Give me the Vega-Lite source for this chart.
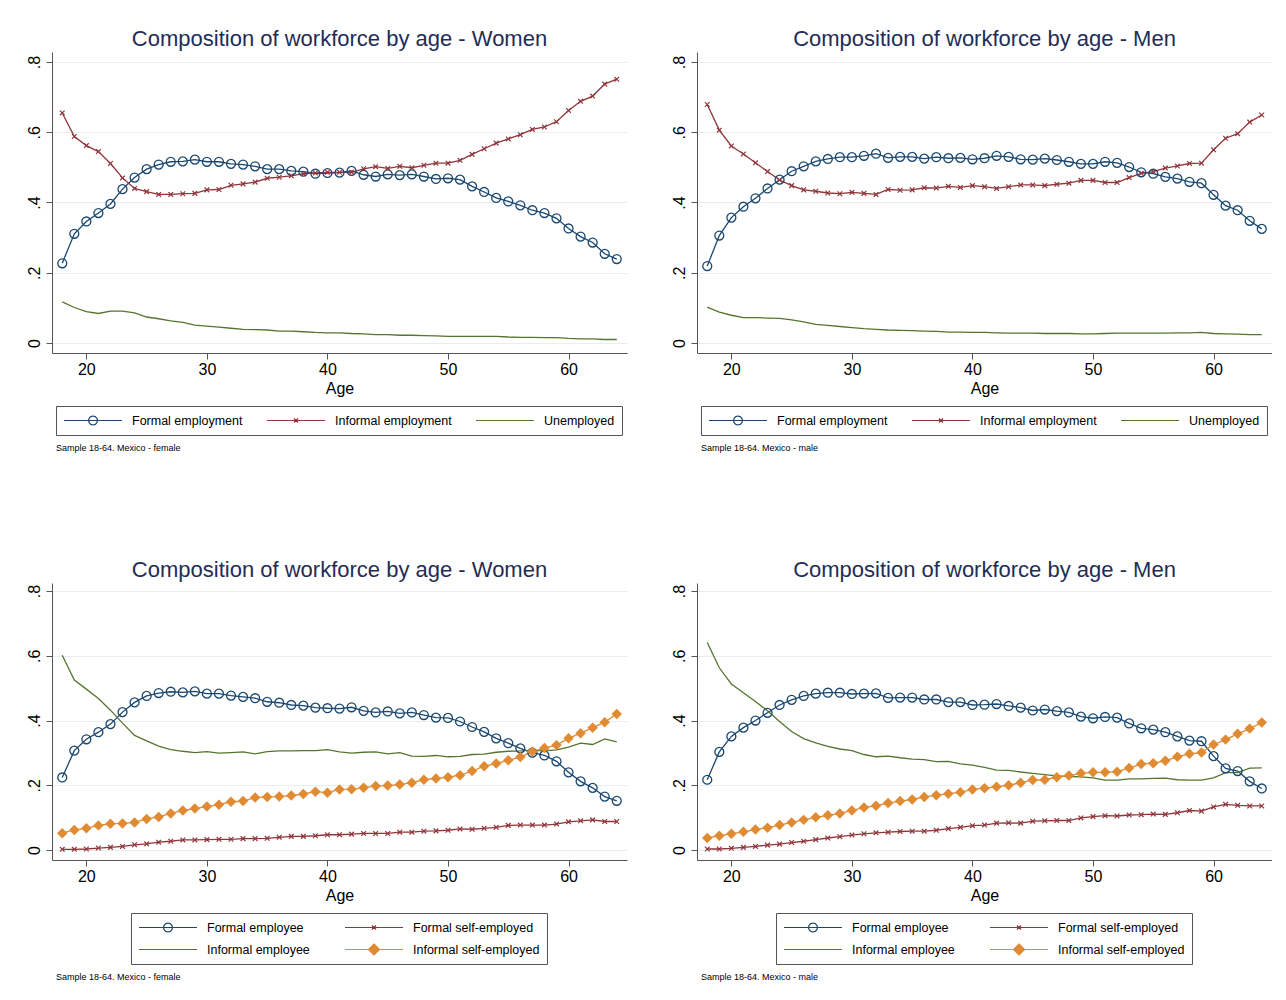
{
  "$schema": "https://vega.github.io/schema/vega-lite/v6.json",
  "background": "white",
  "padding": {"left": 26, "top": 28, "right": 0, "bottom": 0},
  "spacing": 106,
  "resolve": {"scale": {"color": "independent", "stroke": "independent", "shape": "independent"}, "legend": {"color": "independent", "stroke": "independent", "shape": "independent"}},
  "datasets": {
    "tw": [
      {"age":18,"Formal employment":0.227,"Informal employment":0.655,"Unemployed":0.117},
      {"age":19,"Formal employment":0.311,"Informal employment":0.588,"Unemployed":0.101},
      {"age":20,"Formal employment":0.346,"Informal employment":0.562,"Unemployed":0.089},
      {"age":21,"Formal employment":0.370,"Informal employment":0.545,"Unemployed":0.084},
      {"age":22,"Formal employment":0.396,"Informal employment":0.511,"Unemployed":0.091},
      {"age":23,"Formal employment":0.438,"Informal employment":0.470,"Unemployed":0.091},
      {"age":24,"Formal employment":0.471,"Informal employment":0.440,"Unemployed":0.086},
      {"age":25,"Formal employment":0.495,"Informal employment":0.431,"Unemployed":0.074},
      {"age":26,"Formal employment":0.508,"Informal employment":0.423,"Unemployed":0.069},
      {"age":27,"Formal employment":0.516,"Informal employment":0.423,"Unemployed":0.063},
      {"age":28,"Formal employment":0.517,"Informal employment":0.425,"Unemployed":0.059},
      {"age":29,"Formal employment":0.522,"Informal employment":0.426,"Unemployed":0.051},
      {"age":30,"Formal employment":0.516,"Informal employment":0.436,"Unemployed":0.048},
      {"age":31,"Formal employment":0.516,"Informal employment":0.437,"Unemployed":0.045},
      {"age":32,"Formal employment":0.510,"Informal employment":0.449,"Unemployed":0.042},
      {"age":33,"Formal employment":0.508,"Informal employment":0.453,"Unemployed":0.039},
      {"age":34,"Formal employment":0.503,"Informal employment":0.458,"Unemployed":0.038},
      {"age":35,"Formal employment":0.495,"Informal employment":0.469,"Unemployed":0.037},
      {"age":36,"Formal employment":0.495,"Informal employment":0.472,"Unemployed":0.034},
      {"age":37,"Formal employment":0.490,"Informal employment":0.476,"Unemployed":0.034},
      {"age":38,"Formal employment":0.488,"Informal employment":0.482,"Unemployed":0.032},
      {"age":39,"Formal employment":0.482,"Informal employment":0.484,"Unemployed":0.030},
      {"age":40,"Formal employment":0.484,"Informal employment":0.486,"Unemployed":0.029},
      {"age":41,"Formal employment":0.485,"Informal employment":0.486,"Unemployed":0.029},
      {"age":42,"Formal employment":0.490,"Informal employment":0.486,"Unemployed":0.027},
      {"age":43,"Formal employment":0.479,"Informal employment":0.496,"Unemployed":0.026},
      {"age":44,"Formal employment":0.474,"Informal employment":0.502,"Unemployed":0.024},
      {"age":45,"Formal employment":0.480,"Informal employment":0.497,"Unemployed":0.024},
      {"age":46,"Formal employment":0.478,"Informal employment":0.503,"Unemployed":0.022},
      {"age":47,"Formal employment":0.480,"Informal employment":0.499,"Unemployed":0.022},
      {"age":48,"Formal employment":0.474,"Informal employment":0.506,"Unemployed":0.021},
      {"age":49,"Formal employment":0.467,"Informal employment":0.512,"Unemployed":0.020},
      {"age":50,"Formal employment":0.469,"Informal employment":0.512,"Unemployed":0.019},
      {"age":51,"Formal employment":0.465,"Informal employment":0.520,"Unemployed":0.019},
      {"age":52,"Formal employment":0.446,"Informal employment":0.537,"Unemployed":0.019},
      {"age":53,"Formal employment":0.430,"Informal employment":0.553,"Unemployed":0.019},
      {"age":54,"Formal employment":0.413,"Informal employment":0.569,"Unemployed":0.019},
      {"age":55,"Formal employment":0.403,"Informal employment":0.581,"Unemployed":0.017},
      {"age":56,"Formal employment":0.392,"Informal employment":0.593,"Unemployed":0.016},
      {"age":57,"Formal employment":0.378,"Informal employment":0.608,"Unemployed":0.016},
      {"age":58,"Formal employment":0.370,"Informal employment":0.615,"Unemployed":0.015},
      {"age":59,"Formal employment":0.355,"Informal employment":0.630,"Unemployed":0.015},
      {"age":60,"Formal employment":0.326,"Informal employment":0.662,"Unemployed":0.013},
      {"age":61,"Formal employment":0.303,"Informal employment":0.688,"Unemployed":0.012},
      {"age":62,"Formal employment":0.286,"Informal employment":0.703,"Unemployed":0.012},
      {"age":63,"Formal employment":0.254,"Informal employment":0.737,"Unemployed":0.010},
      {"age":64,"Formal employment":0.239,"Informal employment":0.751,"Unemployed":0.010}
    ],
    "tm": [
      {"age":18,"Formal employment":0.219,"Informal employment":0.679,"Unemployed":0.102},
      {"age":19,"Formal employment":0.306,"Informal employment":0.606,"Unemployed":0.088},
      {"age":20,"Formal employment":0.357,"Informal employment":0.561,"Unemployed":0.079},
      {"age":21,"Formal employment":0.388,"Informal employment":0.538,"Unemployed":0.072},
      {"age":22,"Formal employment":0.412,"Informal employment":0.513,"Unemployed":0.072},
      {"age":23,"Formal employment":0.440,"Informal employment":0.488,"Unemployed":0.071},
      {"age":24,"Formal employment":0.465,"Informal employment":0.464,"Unemployed":0.070},
      {"age":25,"Formal employment":0.489,"Informal employment":0.448,"Unemployed":0.066},
      {"age":26,"Formal employment":0.503,"Informal employment":0.436,"Unemployed":0.060},
      {"age":27,"Formal employment":0.517,"Informal employment":0.432,"Unemployed":0.053},
      {"age":28,"Formal employment":0.524,"Informal employment":0.427,"Unemployed":0.050},
      {"age":29,"Formal employment":0.529,"Informal employment":0.425,"Unemployed":0.047},
      {"age":30,"Formal employment":0.529,"Informal employment":0.429,"Unemployed":0.044},
      {"age":31,"Formal employment":0.533,"Informal employment":0.426,"Unemployed":0.041},
      {"age":32,"Formal employment":0.539,"Informal employment":0.423,"Unemployed":0.039},
      {"age":33,"Formal employment":0.527,"Informal employment":0.437,"Unemployed":0.037},
      {"age":34,"Formal employment":0.530,"Informal employment":0.435,"Unemployed":0.036},
      {"age":35,"Formal employment":0.530,"Informal employment":0.436,"Unemployed":0.035},
      {"age":36,"Formal employment":0.525,"Informal employment":0.442,"Unemployed":0.034},
      {"age":37,"Formal employment":0.529,"Informal employment":0.441,"Unemployed":0.033},
      {"age":38,"Formal employment":0.526,"Informal employment":0.446,"Unemployed":0.031},
      {"age":39,"Formal employment":0.527,"Informal employment":0.443,"Unemployed":0.031},
      {"age":40,"Formal employment":0.523,"Informal employment":0.448,"Unemployed":0.030},
      {"age":41,"Formal employment":0.526,"Informal employment":0.445,"Unemployed":0.030},
      {"age":42,"Formal employment":0.533,"Informal employment":0.440,"Unemployed":0.029},
      {"age":43,"Formal employment":0.530,"Informal employment":0.445,"Unemployed":0.028},
      {"age":44,"Formal employment":0.523,"Informal employment":0.450,"Unemployed":0.028},
      {"age":45,"Formal employment":0.522,"Informal employment":0.450,"Unemployed":0.028},
      {"age":46,"Formal employment":0.525,"Informal employment":0.448,"Unemployed":0.027},
      {"age":47,"Formal employment":0.521,"Informal employment":0.452,"Unemployed":0.027},
      {"age":48,"Formal employment":0.516,"Informal employment":0.455,"Unemployed":0.027},
      {"age":49,"Formal employment":0.510,"Informal employment":0.463,"Unemployed":0.026},
      {"age":50,"Formal employment":0.510,"Informal employment":0.463,"Unemployed":0.026},
      {"age":51,"Formal employment":0.516,"Informal employment":0.457,"Unemployed":0.027},
      {"age":52,"Formal employment":0.513,"Informal employment":0.457,"Unemployed":0.028},
      {"age":53,"Formal employment":0.501,"Informal employment":0.471,"Unemployed":0.028},
      {"age":54,"Formal employment":0.486,"Informal employment":0.483,"Unemployed":0.028},
      {"age":55,"Formal employment":0.482,"Informal employment":0.488,"Unemployed":0.028},
      {"age":56,"Formal employment":0.473,"Informal employment":0.498,"Unemployed":0.028},
      {"age":57,"Formal employment":0.468,"Informal employment":0.504,"Unemployed":0.029},
      {"age":58,"Formal employment":0.459,"Informal employment":0.511,"Unemployed":0.029},
      {"age":59,"Formal employment":0.455,"Informal employment":0.512,"Unemployed":0.030},
      {"age":60,"Formal employment":0.422,"Informal employment":0.550,"Unemployed":0.027},
      {"age":61,"Formal employment":0.391,"Informal employment":0.583,"Unemployed":0.026},
      {"age":62,"Formal employment":0.378,"Informal employment":0.596,"Unemployed":0.025},
      {"age":63,"Formal employment":0.348,"Informal employment":0.629,"Unemployed":0.024},
      {"age":64,"Formal employment":0.325,"Informal employment":0.649,"Unemployed":0.024}
    ],
    "bw": [
      {"age":18,"Formal employee":0.224,"Formal self-employed":0.002,"Informal employee":0.602,"Informal self-employed":0.052},
      {"age":19,"Formal employee":0.307,"Formal self-employed":0.002,"Informal employee":0.525,"Informal self-employed":0.062},
      {"age":20,"Formal employee":0.342,"Formal self-employed":0.003,"Informal employee":0.497,"Informal self-employed":0.067},
      {"age":21,"Formal employee":0.364,"Formal self-employed":0.006,"Informal employee":0.468,"Informal self-employed":0.076},
      {"age":22,"Formal employee":0.389,"Formal self-employed":0.008,"Informal employee":0.432,"Informal self-employed":0.081},
      {"age":23,"Formal employee":0.426,"Formal self-employed":0.011,"Informal employee":0.392,"Informal self-employed":0.082},
      {"age":24,"Formal employee":0.456,"Formal self-employed":0.016,"Informal employee":0.354,"Informal self-employed":0.085},
      {"age":25,"Formal employee":0.476,"Formal self-employed":0.019,"Informal employee":0.337,"Informal self-employed":0.096},
      {"age":26,"Formal employee":0.485,"Formal self-employed":0.024,"Informal employee":0.321,"Informal self-employed":0.102},
      {"age":27,"Formal employee":0.489,"Formal self-employed":0.027,"Informal employee":0.310,"Informal self-employed":0.113},
      {"age":28,"Formal employee":0.487,"Formal self-employed":0.031,"Informal employee":0.305,"Informal self-employed":0.122},
      {"age":29,"Formal employee":0.490,"Formal self-employed":0.031,"Informal employee":0.301,"Informal self-employed":0.128},
      {"age":30,"Formal employee":0.483,"Formal self-employed":0.032,"Informal employee":0.304,"Informal self-employed":0.134},
      {"age":31,"Formal employee":0.483,"Formal self-employed":0.033,"Informal employee":0.299,"Informal self-employed":0.140},
      {"age":32,"Formal employee":0.477,"Formal self-employed":0.033,"Informal employee":0.301,"Informal self-employed":0.149},
      {"age":33,"Formal employee":0.473,"Formal self-employed":0.035,"Informal employee":0.303,"Informal self-employed":0.151},
      {"age":34,"Formal employee":0.469,"Formal self-employed":0.035,"Informal employee":0.297,"Informal self-employed":0.162},
      {"age":35,"Formal employee":0.458,"Formal self-employed":0.036,"Informal employee":0.304,"Informal self-employed":0.164},
      {"age":36,"Formal employee":0.455,"Formal self-employed":0.039,"Informal employee":0.306,"Informal self-employed":0.165},
      {"age":37,"Formal employee":0.448,"Formal self-employed":0.042,"Informal employee":0.306,"Informal self-employed":0.168},
      {"age":38,"Formal employee":0.446,"Formal self-employed":0.042,"Informal employee":0.307,"Informal self-employed":0.173},
      {"age":39,"Formal employee":0.440,"Formal self-employed":0.044,"Informal employee":0.307,"Informal self-employed":0.180},
      {"age":40,"Formal employee":0.438,"Formal self-employed":0.047,"Informal employee":0.310,"Informal self-employed":0.177},
      {"age":41,"Formal employee":0.437,"Formal self-employed":0.047,"Informal employee":0.303,"Informal self-employed":0.187},
      {"age":42,"Formal employee":0.441,"Formal self-employed":0.049,"Informal employee":0.299,"Informal self-employed":0.188},
      {"age":43,"Formal employee":0.430,"Formal self-employed":0.051,"Informal employee":0.302,"Informal self-employed":0.192},
      {"age":44,"Formal employee":0.425,"Formal self-employed":0.051,"Informal employee":0.303,"Informal self-employed":0.198},
      {"age":45,"Formal employee":0.428,"Formal self-employed":0.051,"Informal employee":0.297,"Informal self-employed":0.199},
      {"age":46,"Formal employee":0.422,"Formal self-employed":0.055,"Informal employee":0.301,"Informal self-employed":0.202},
      {"age":47,"Formal employee":0.425,"Formal self-employed":0.055,"Informal employee":0.290,"Informal self-employed":0.208},
      {"age":48,"Formal employee":0.417,"Formal self-employed":0.058,"Informal employee":0.289,"Informal self-employed":0.217},
      {"age":49,"Formal employee":0.409,"Formal self-employed":0.059,"Informal employee":0.292,"Informal self-employed":0.221},
      {"age":50,"Formal employee":0.408,"Formal self-employed":0.061,"Informal employee":0.288,"Informal self-employed":0.225},
      {"age":51,"Formal employee":0.397,"Formal self-employed":0.065,"Informal employee":0.289,"Informal self-employed":0.231},
      {"age":52,"Formal employee":0.380,"Formal self-employed":0.064,"Informal employee":0.295,"Informal self-employed":0.244},
      {"age":53,"Formal employee":0.365,"Formal self-employed":0.067,"Informal employee":0.296,"Informal self-employed":0.259},
      {"age":54,"Formal employee":0.345,"Formal self-employed":0.070,"Informal employee":0.302,"Informal self-employed":0.267},
      {"age":55,"Formal employee":0.330,"Formal self-employed":0.076,"Informal employee":0.305,"Informal self-employed":0.277},
      {"age":56,"Formal employee":0.314,"Formal self-employed":0.077,"Informal employee":0.306,"Informal self-employed":0.287},
      {"age":57,"Formal employee":0.301,"Formal self-employed":0.077,"Informal employee":0.308,"Informal self-employed":0.304},
      {"age":58,"Formal employee":0.292,"Formal self-employed":0.077,"Informal employee":0.306,"Informal self-employed":0.315},
      {"age":59,"Formal employee":0.274,"Formal self-employed":0.080,"Informal employee":0.309,"Informal self-employed":0.324},
      {"age":60,"Formal employee":0.240,"Formal self-employed":0.087,"Informal employee":0.318,"Informal self-employed":0.345},
      {"age":61,"Formal employee":0.212,"Formal self-employed":0.090,"Informal employee":0.330,"Informal self-employed":0.361},
      {"age":62,"Formal employee":0.192,"Formal self-employed":0.093,"Informal employee":0.326,"Informal self-employed":0.378},
      {"age":63,"Formal employee":0.165,"Formal self-employed":0.088,"Informal employee":0.343,"Informal self-employed":0.395},
      {"age":64,"Formal employee":0.152,"Formal self-employed":0.088,"Informal employee":0.334,"Informal self-employed":0.420}
    ],
    "bm": [
      {"age":18,"Formal employee":0.217,"Formal self-employed":0.003,"Informal employee":0.641,"Informal self-employed":0.037},
      {"age":19,"Formal employee":0.303,"Formal self-employed":0.003,"Informal employee":0.563,"Informal self-employed":0.044},
      {"age":20,"Formal employee":0.351,"Formal self-employed":0.005,"Informal employee":0.513,"Informal self-employed":0.050},
      {"age":21,"Formal employee":0.378,"Formal self-employed":0.008,"Informal employee":0.486,"Informal self-employed":0.056},
      {"age":22,"Formal employee":0.400,"Formal self-employed":0.011,"Informal employee":0.459,"Informal self-employed":0.063},
      {"age":23,"Formal employee":0.424,"Formal self-employed":0.015,"Informal employee":0.430,"Informal self-employed":0.069},
      {"age":24,"Formal employee":0.448,"Formal self-employed":0.018,"Informal employee":0.397,"Informal self-employed":0.077},
      {"age":25,"Formal employee":0.464,"Formal self-employed":0.023,"Informal employee":0.366,"Informal self-employed":0.085},
      {"age":26,"Formal employee":0.476,"Formal self-employed":0.027,"Informal employee":0.344,"Informal self-employed":0.093},
      {"age":27,"Formal employee":0.483,"Formal self-employed":0.032,"Informal employee":0.331,"Informal self-employed":0.101},
      {"age":28,"Formal employee":0.486,"Formal self-employed":0.037,"Informal employee":0.320,"Informal self-employed":0.107},
      {"age":29,"Formal employee":0.486,"Formal self-employed":0.041,"Informal employee":0.312,"Informal self-employed":0.113},
      {"age":30,"Formal employee":0.482,"Formal self-employed":0.046,"Informal employee":0.307,"Informal self-employed":0.122},
      {"age":31,"Formal employee":0.483,"Formal self-employed":0.050,"Informal employee":0.295,"Informal self-employed":0.131},
      {"age":32,"Formal employee":0.484,"Formal self-employed":0.053,"Informal employee":0.288,"Informal self-employed":0.137},
      {"age":33,"Formal employee":0.470,"Formal self-employed":0.055,"Informal employee":0.290,"Informal self-employed":0.145},
      {"age":34,"Formal employee":0.471,"Formal self-employed":0.057,"Informal employee":0.285,"Informal self-employed":0.151},
      {"age":35,"Formal employee":0.471,"Formal self-employed":0.058,"Informal employee":0.281,"Informal self-employed":0.156},
      {"age":36,"Formal employee":0.465,"Formal self-employed":0.058,"Informal employee":0.279,"Informal self-employed":0.164},
      {"age":37,"Formal employee":0.465,"Formal self-employed":0.061,"Informal employee":0.273,"Informal self-employed":0.169},
      {"age":38,"Formal employee":0.457,"Formal self-employed":0.066,"Informal employee":0.274,"Informal self-employed":0.174},
      {"age":39,"Formal employee":0.457,"Formal self-employed":0.070,"Informal employee":0.266,"Informal self-employed":0.178},
      {"age":40,"Formal employee":0.448,"Formal self-employed":0.075,"Informal employee":0.262,"Informal self-employed":0.187},
      {"age":41,"Formal employee":0.449,"Formal self-employed":0.077,"Informal employee":0.255,"Informal self-employed":0.191},
      {"age":42,"Formal employee":0.451,"Formal self-employed":0.083,"Informal employee":0.247,"Informal self-employed":0.195},
      {"age":43,"Formal employee":0.445,"Formal self-employed":0.084,"Informal employee":0.246,"Informal self-employed":0.200},
      {"age":44,"Formal employee":0.440,"Formal self-employed":0.083,"Informal employee":0.241,"Informal self-employed":0.208},
      {"age":45,"Formal employee":0.431,"Formal self-employed":0.089,"Informal employee":0.237,"Informal self-employed":0.216},
      {"age":46,"Formal employee":0.434,"Formal self-employed":0.090,"Informal employee":0.233,"Informal self-employed":0.217},
      {"age":47,"Formal employee":0.429,"Formal self-employed":0.091,"Informal employee":0.229,"Informal self-employed":0.225},
      {"age":48,"Formal employee":0.425,"Formal self-employed":0.091,"Informal employee":0.227,"Informal self-employed":0.230},
      {"age":49,"Formal employee":0.412,"Formal self-employed":0.099,"Informal employee":0.226,"Informal self-employed":0.237},
      {"age":50,"Formal employee":0.407,"Formal self-employed":0.103,"Informal employee":0.223,"Informal self-employed":0.240},
      {"age":51,"Formal employee":0.411,"Formal self-employed":0.106,"Informal employee":0.216,"Informal self-employed":0.240},
      {"age":52,"Formal employee":0.409,"Formal self-employed":0.105,"Informal employee":0.216,"Informal self-employed":0.242},
      {"age":53,"Formal employee":0.391,"Formal self-employed":0.108,"Informal employee":0.220,"Informal self-employed":0.253},
      {"age":54,"Formal employee":0.376,"Formal self-employed":0.109,"Informal employee":0.220,"Informal self-employed":0.266},
      {"age":55,"Formal employee":0.372,"Formal self-employed":0.111,"Informal employee":0.221,"Informal self-employed":0.268},
      {"age":56,"Formal employee":0.364,"Formal self-employed":0.110,"Informal employee":0.222,"Informal self-employed":0.276},
      {"age":57,"Formal employee":0.351,"Formal self-employed":0.115,"Informal employee":0.217,"Informal self-employed":0.288},
      {"age":58,"Formal employee":0.338,"Formal self-employed":0.122,"Informal employee":0.216,"Informal self-employed":0.297},
      {"age":59,"Formal employee":0.336,"Formal self-employed":0.120,"Informal employee":0.216,"Informal self-employed":0.301},
      {"age":60,"Formal employee":0.290,"Formal self-employed":0.133,"Informal employee":0.223,"Informal self-employed":0.326},
      {"age":61,"Formal employee":0.252,"Formal self-employed":0.141,"Informal employee":0.239,"Informal self-employed":0.341},
      {"age":62,"Formal employee":0.244,"Formal self-employed":0.138,"Informal employee":0.239,"Informal self-employed":0.359},
      {"age":63,"Formal employee":0.212,"Formal self-employed":0.136,"Informal employee":0.253,"Informal self-employed":0.375},
      {"age":64,"Formal employee":0.190,"Formal self-employed":0.136,"Informal employee":0.254,"Informal self-employed":0.394}
    ]
  },
  "vconcat": [
    {
      "spacing": 44,
      "resolve": {"scale": {"color": "independent", "stroke": "independent", "shape": "independent"}, "legend": {"color": "independent", "stroke": "independent", "shape": "independent"}},
      "hconcat": [
        {
          "title": {"text": "Sample 18-64. Mexico - female", "orient": "bottom", "anchor": "start", "fontSize": 9, "color": "#000", "offset": 8, "dx": 30},
          "resolve": {"scale": {"color": "independent", "stroke": "independent", "shape": "independent"}, "legend": {"color": "independent", "stroke": "independent", "shape": "independent"}},
          "vconcat": [{
            "title": "Composition of workforce by age - Women",
            "width": 575, "height": 301,
            "data": {"name": "tw"},
            "transform": [{"fold": ["Formal employment", "Informal employment", "Unemployed"], "as": ["series", "value"]}],
            "encoding": {
              "x": {"field": "age", "type": "quantitative", "title": "Age", "scale": {"domain": [17.15, 64.85], "nice": false, "zero": false}, "axis": {"values": [20, 30, 40, 50, 60]}},
              "y": {"field": "value", "type": "quantitative", "title": null, "scale": {"domain": [-0.0285, 0.8285], "nice": false, "zero": false}, "axis": {"values": [0, 0.2, 0.4, 0.6, 0.8]}}
            },
            "layer": [
              {"mark": {"type": "line", "strokeWidth": 1.3}, "encoding": {"color": {"field": "series", "type": "nominal", "scale": {"domain": ["Formal employment", "Informal employment", "Unemployed"], "range": ["#1a476f", "#90353b", "#55752f"]}, "legend": {"title": null, "columns": 3, "columnPadding": 23, "symbolOpacity": 1}}}},
              {"transform": [{"filter": "datum.series == 'Formal employment'"}], "mark": {"type": "point", "shape": "circle", "filled": false, "size": 80, "strokeWidth": 1.3, "color": "#1a476f", "opacity": 1}},
              {"transform": [{"filter": "datum.series == 'Informal employment'"}], "mark": {"type": "point", "shape": "M-1,-1L1,1M-1,1L1,-1", "filled": false, "size": 22, "strokeWidth": 1.2, "color": "#90353b", "opacity": 1}},
              {"mark": {"type": "point", "filled": false, "strokeWidth": 1.2, "opacity": 0},
               "encoding": {
                 "stroke": {"field": "series", "type": "nominal", "scale": {"domain": ["Formal employment", "Informal employment", "Unemployed"], "range": ["#1a476f", "#90353b", "#55752f"]}, "legend": {"title": null, "columns": 3, "columnPadding": 23, "symbolOpacity": 1}},
                 "shape": {"field": "series", "type": "nominal", "scale": {"domain": ["Formal employment", "Informal employment", "Unemployed"], "range": ["M-1,0H1M0.155,0L0.134,0.0775L0.0775,0.134L0,0.155L-0.0775,0.134L-0.134,0.0775L-0.155,0L-0.134,-0.0775L-0.0775,-0.134L0,-0.155L0.0775,-0.134L0.134,-0.0775Z", "M-1,0H1M-0.07,-0.07L0.07,0.07M-0.07,0.07L0.07,-0.07", "M-1,0H1"]}, "legend": {"title": null, "columns": 3, "columnPadding": 23, "symbolOpacity": 1}}
               }}
            ]
          }]
        },
        {
          "title": {"text": "Sample 18-64. Mexico - male", "orient": "bottom", "anchor": "start", "fontSize": 9, "color": "#000", "offset": 8, "dx": 30},
          "resolve": {"scale": {"color": "independent", "stroke": "independent", "shape": "independent"}, "legend": {"color": "independent", "stroke": "independent", "shape": "independent"}},
          "vconcat": [{
            "title": "Composition of workforce by age - Men",
            "width": 575, "height": 301,
            "data": {"name": "tm"},
            "transform": [{"fold": ["Formal employment", "Informal employment", "Unemployed"], "as": ["series", "value"]}],
            "encoding": {
              "x": {"field": "age", "type": "quantitative", "title": "Age", "scale": {"domain": [17.15, 64.85], "nice": false, "zero": false}, "axis": {"values": [20, 30, 40, 50, 60]}},
              "y": {"field": "value", "type": "quantitative", "title": null, "scale": {"domain": [-0.0285, 0.8285], "nice": false, "zero": false}, "axis": {"values": [0, 0.2, 0.4, 0.6, 0.8]}}
            },
            "layer": [
              {"mark": {"type": "line", "strokeWidth": 1.3}, "encoding": {"color": {"field": "series", "type": "nominal", "scale": {"domain": ["Formal employment", "Informal employment", "Unemployed"], "range": ["#1a476f", "#90353b", "#55752f"]}, "legend": {"title": null, "columns": 3, "columnPadding": 23, "symbolOpacity": 1}}}},
              {"transform": [{"filter": "datum.series == 'Formal employment'"}], "mark": {"type": "point", "shape": "circle", "filled": false, "size": 80, "strokeWidth": 1.3, "color": "#1a476f", "opacity": 1}},
              {"transform": [{"filter": "datum.series == 'Informal employment'"}], "mark": {"type": "point", "shape": "M-1,-1L1,1M-1,1L1,-1", "filled": false, "size": 22, "strokeWidth": 1.2, "color": "#90353b", "opacity": 1}},
              {"mark": {"type": "point", "filled": false, "strokeWidth": 1.2, "opacity": 0},
               "encoding": {
                 "stroke": {"field": "series", "type": "nominal", "scale": {"domain": ["Formal employment", "Informal employment", "Unemployed"], "range": ["#1a476f", "#90353b", "#55752f"]}, "legend": {"title": null, "columns": 3, "columnPadding": 23, "symbolOpacity": 1}},
                 "shape": {"field": "series", "type": "nominal", "scale": {"domain": ["Formal employment", "Informal employment", "Unemployed"], "range": ["M-1,0H1M0.155,0L0.134,0.0775L0.0775,0.134L0,0.155L-0.0775,0.134L-0.134,0.0775L-0.155,0L-0.134,-0.0775L-0.0775,-0.134L0,-0.155L0.0775,-0.134L0.134,-0.0775Z", "M-1,0H1M-0.07,-0.07L0.07,0.07M-0.07,0.07L0.07,-0.07", "M-1,0H1"]}, "legend": {"title": null, "columns": 3, "columnPadding": 23, "symbolOpacity": 1}}
               }}
            ]
          }]
        }
      ]
    },
    {
      "spacing": 44,
      "resolve": {"scale": {"color": "independent", "stroke": "independent", "shape": "independent"}, "legend": {"color": "independent", "stroke": "independent", "shape": "independent"}},
      "hconcat": [
        {
          "title": {"text": "Sample 18-64. Mexico - female", "orient": "bottom", "anchor": "start", "fontSize": 9, "color": "#000", "offset": 8, "dx": 30},
          "resolve": {"scale": {"color": "independent", "stroke": "independent", "shape": "independent"}, "legend": {"color": "independent", "stroke": "independent", "shape": "independent"}},
          "vconcat": [{
            "title": "Composition of workforce by age - Women",
            "width": 575, "height": 277,
            "data": {"name": "bw"},
            "transform": [{"fold": ["Formal employee", "Formal self-employed", "Informal employee", "Informal self-employed"], "as": ["series", "value"]}],
            "encoding": {
              "x": {"field": "age", "type": "quantitative", "title": "Age", "scale": {"domain": [17.15, 64.85], "nice": false, "zero": false}, "axis": {"values": [20, 30, 40, 50, 60]}},
              "y": {"field": "value", "type": "quantitative", "title": null, "scale": {"domain": [-0.031, 0.825], "nice": false, "zero": false}, "axis": {"values": [0, 0.2, 0.4, 0.6, 0.8]}}
            },
            "layer": [
              {"mark": {"type": "line", "strokeWidth": 1.3}, "encoding": {"color": {"field": "series", "type": "nominal", "scale": {"domain": ["Formal employee", "Formal self-employed", "Informal employee", "Informal self-employed"], "range": ["#1a476f", "#90353b", "#55752f", "#e08a32"]}, "legend": {"title": null, "columns": 2, "columnPadding": 34, "rowPadding": 7, "symbolOpacity": 1}}}},
              {"transform": [{"filter": "datum.series == 'Formal employee'"}], "mark": {"type": "point", "shape": "circle", "filled": false, "size": 80, "strokeWidth": 1.3, "color": "#1a476f", "opacity": 1}},
              {"transform": [{"filter": "datum.series == 'Formal self-employed'"}], "mark": {"type": "point", "shape": "M-1,-1L1,1M-1,1L1,-1", "filled": false, "size": 22, "strokeWidth": 1.2, "color": "#90353b", "opacity": 1}},
              {"transform": [{"filter": "datum.series == 'Informal self-employed'"}], "mark": {"type": "point", "shape": "diamond", "filled": true, "size": 110, "color": "#e08a32", "opacity": 1}},
              {"mark": {"type": "point", "filled": false, "strokeWidth": 1.2, "opacity": 0},
               "encoding": {
                 "stroke": {"field": "series", "type": "nominal", "scale": {"domain": ["Formal employee", "Formal self-employed", "Informal employee", "Informal self-employed"], "range": ["#1a476f", "#90353b", "#55752f", "#e08a32"]}, "legend": {"title": null, "columns": 2, "columnPadding": 34, "rowPadding": 7, "symbolOpacity": 1}},
                 "shape": {"field": "series", "type": "nominal", "scale": {"domain": ["Formal employee", "Formal self-employed", "Informal employee", "Informal self-employed"], "range": ["M-1,0H1M0.155,0L0.134,0.0775L0.0775,0.134L0,0.155L-0.0775,0.134L-0.134,0.0775L-0.155,0L-0.134,-0.0775L-0.0775,-0.134L0,-0.155L0.0775,-0.134L0.134,-0.0775Z", "M-1,0H1M-0.07,-0.07L0.07,0.07M-0.07,0.07L0.07,-0.07", "M-1,0H1", "M-1,0H1M0,-0.19L0.19,0L0,0.19L-0.19,0ZM-0.02,-0.17H0.02M-0.054,-0.136H0.054M-0.088,-0.102H0.088M-0.122,-0.068H0.122M-0.156,-0.034H0.156M-0.156,0.034H0.156M-0.122,0.068H0.122M-0.088,0.102H0.088M-0.054,0.136H0.054M-0.02,0.17H0.02"]}, "legend": {"title": null, "columns": 2, "columnPadding": 34, "rowPadding": 7, "symbolOpacity": 1}}
               }}
            ]
          }]
        },
        {
          "title": {"text": "Sample 18-64. Mexico - male", "orient": "bottom", "anchor": "start", "fontSize": 9, "color": "#000", "offset": 8, "dx": 30},
          "resolve": {"scale": {"color": "independent", "stroke": "independent", "shape": "independent"}, "legend": {"color": "independent", "stroke": "independent", "shape": "independent"}},
          "vconcat": [{
            "title": "Composition of workforce by age - Men",
            "width": 575, "height": 277,
            "data": {"name": "bm"},
            "transform": [{"fold": ["Formal employee", "Formal self-employed", "Informal employee", "Informal self-employed"], "as": ["series", "value"]}],
            "encoding": {
              "x": {"field": "age", "type": "quantitative", "title": "Age", "scale": {"domain": [17.15, 64.85], "nice": false, "zero": false}, "axis": {"values": [20, 30, 40, 50, 60]}},
              "y": {"field": "value", "type": "quantitative", "title": null, "scale": {"domain": [-0.031, 0.825], "nice": false, "zero": false}, "axis": {"values": [0, 0.2, 0.4, 0.6, 0.8]}}
            },
            "layer": [
              {"mark": {"type": "line", "strokeWidth": 1.3}, "encoding": {"color": {"field": "series", "type": "nominal", "scale": {"domain": ["Formal employee", "Formal self-employed", "Informal employee", "Informal self-employed"], "range": ["#1a476f", "#90353b", "#55752f", "#e08a32"]}, "legend": {"title": null, "columns": 2, "columnPadding": 34, "rowPadding": 7, "symbolOpacity": 1}}}},
              {"transform": [{"filter": "datum.series == 'Formal employee'"}], "mark": {"type": "point", "shape": "circle", "filled": false, "size": 80, "strokeWidth": 1.3, "color": "#1a476f", "opacity": 1}},
              {"transform": [{"filter": "datum.series == 'Formal self-employed'"}], "mark": {"type": "point", "shape": "M-1,-1L1,1M-1,1L1,-1", "filled": false, "size": 22, "strokeWidth": 1.2, "color": "#90353b", "opacity": 1}},
              {"transform": [{"filter": "datum.series == 'Informal self-employed'"}], "mark": {"type": "point", "shape": "diamond", "filled": true, "size": 110, "color": "#e08a32", "opacity": 1}},
              {"mark": {"type": "point", "filled": false, "strokeWidth": 1.2, "opacity": 0},
               "encoding": {
                 "stroke": {"field": "series", "type": "nominal", "scale": {"domain": ["Formal employee", "Formal self-employed", "Informal employee", "Informal self-employed"], "range": ["#1a476f", "#90353b", "#55752f", "#e08a32"]}, "legend": {"title": null, "columns": 2, "columnPadding": 34, "rowPadding": 7, "symbolOpacity": 1}},
                 "shape": {"field": "series", "type": "nominal", "scale": {"domain": ["Formal employee", "Formal self-employed", "Informal employee", "Informal self-employed"], "range": ["M-1,0H1M0.155,0L0.134,0.0775L0.0775,0.134L0,0.155L-0.0775,0.134L-0.134,0.0775L-0.155,0L-0.134,-0.0775L-0.0775,-0.134L0,-0.155L0.0775,-0.134L0.134,-0.0775Z", "M-1,0H1M-0.07,-0.07L0.07,0.07M-0.07,0.07L0.07,-0.07", "M-1,0H1", "M-1,0H1M0,-0.19L0.19,0L0,0.19L-0.19,0ZM-0.02,-0.17H0.02M-0.054,-0.136H0.054M-0.088,-0.102H0.088M-0.122,-0.068H0.122M-0.156,-0.034H0.156M-0.156,0.034H0.156M-0.122,0.068H0.122M-0.088,0.102H0.088M-0.054,0.136H0.054M-0.02,0.17H0.02"]}, "legend": {"title": null, "columns": 2, "columnPadding": 34, "rowPadding": 7, "symbolOpacity": 1}}
               }}
            ]
          }]
        }
      ]
    }
  ],
  "config": {
    "font": "Liberation Sans",
    "view": {"stroke": null},
    "title": {"font": "Liberation Sans", "fontSize": 22, "fontWeight": "normal", "color": "#1f2d57", "offset": 1},
    "axis": {"labelFont": "Liberation Sans", "titleFont": "Liberation Sans", "labelFontSize": 16, "titleFontSize": 16, "titleFontWeight": "normal", "labelColor": "#000", "titleColor": "#000", "domainColor": "#555", "tickColor": "#555", "tickSize": 6},
    "axisX": {"grid": false, "labelPadding": 2, "titlePadding": 3},
    "axisY": {"grid": true, "gridColor": "#e6eef1", "labelAngle": -90, "labelAlign": "center", "labelBaseline": "bottom", "labelPadding": 4, "labelExpr": "datum.value == 0 ? '0' : replace(format(datum.value, '.1f'), '0.', '.')"},
    "legend": {"orient": "bottom", "direction": "horizontal", "labelFont": "Liberation Sans", "labelFontSize": 12.5, "labelColor": "#000", "symbolSize": 3364, "symbolStrokeWidth": 1.2, "strokeColor": "#555", "padding": 7, "offset": 10, "labelOffset": 9, "clipHeight": 15, "layout": {"bottom": {"anchor": "middle", "direction": "horizontal", "center": false, "margin": 4, "offset": 10, "bounds": "full"}}}
  }
}
